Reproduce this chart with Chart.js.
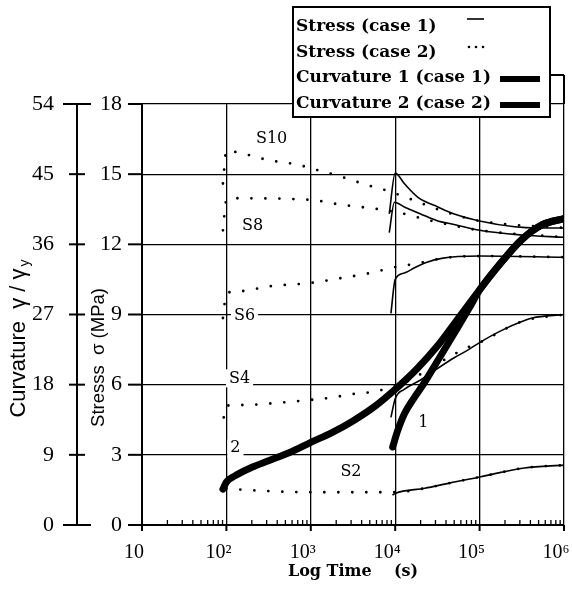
<!DOCTYPE html>
<html>
<head>
<meta charset="utf-8">
<script src="https://cdn.jsdelivr.net/npm/chart.js@4.4.0/dist/chart.umd.min.js"></script>
<style>
  body { margin: 0; background: #fff; }
  canvas { display: block; }
</style>
</head>
<body>
<canvas id="chart" width="572" height="594"></canvas>
<script>
// [time (s), stress (MPa)]
const s10Case1 = [[8500, 13.3], [1e4, 15.05], [1.28e4, 14.6], [1.88e4, 14.0], [3.2e4, 13.6], [5e4, 13.3], [1e5, 13.0], [2.6e5, 12.75], [5e5, 12.7], [1e6, 12.7]];
const s8Case1 = [[8500, 12.5], [9800, 13.8], [1.28e4, 13.6], [2e4, 13.3], [3.2e4, 13.0], [5e4, 12.85], [1e5, 12.6], [3.16e5, 12.4], [1e6, 12.3]];
const s6Case1 = [[8900, 9.05], [1e4, 10.5], [1.28e4, 10.77], [1.7e4, 11.0], [2.24e4, 11.2], [3.55e4, 11.4], [1e5, 11.5], [1e6, 11.45]];
const s4Case1 = [[8900, 4.6], [1e4, 5.4], [1.28e4, 5.8], [2e4, 6.2], [3.2e4, 6.7], [5e4, 7.15], [7.4e4, 7.5], [1e5, 7.8], [1.78e5, 8.3], [3.16e5, 8.7], [4.2e5, 8.85], [1e6, 9.0]];
const s2Case1 = [[9300, 1.28], [1e4, 1.35], [2.24e4, 1.57], [4.5e4, 1.8], [1e5, 2.05], [1.78e5, 2.25], [3.4e5, 2.44], [1e6, 2.56]];

const s10Case2 = [[91, 14.6], [100, 16.0], [148, 15.9], [316, 15.6], [708, 15.4], [1000, 15.25], [2240, 14.9], [5000, 14.5], [7940, 14.3], [1.48e4, 13.95], [2.24e4, 13.7], [3.16e4, 13.5], [1e5, 13.0], [1e6, 12.7]];
const s8Case2 = [[91, 12.6], [100, 13.9], [117, 13.97], [1000, 13.9], [2240, 13.7], [5000, 13.55], [7940, 13.45], [1.48e4, 13.25], [2.24e4, 13.07], [3.16e4, 12.95], [1e5, 12.6], [1e6, 12.3]];
const s6Case2 = [[91, 8.85], [100, 9.9], [148, 10.0], [316, 10.2], [1000, 10.35], [2240, 10.55], [5000, 10.77], [1e4, 11.03], [1.6e4, 11.15], [2.5e4, 11.28], [3.55e4, 11.4], [1e5, 11.5], [1e6, 11.45]];
const s4Case2 = [[93, 4.6], [100, 5.1], [155, 5.13], [500, 5.25], [1000, 5.35], [1780, 5.45], [3160, 5.6], [5620, 5.7], [1e4, 5.95], [1.6e4, 6.25], [3.16e4, 6.9], [4.5e4, 7.2], [6.3e4, 7.5], [1e5, 7.8], [3.16e5, 8.7], [1e6, 9.0]];
const s2Case2 = [[100, 1.55], [316, 1.45], [1000, 1.4], [3160, 1.4], [1e4, 1.4], [2.24e4, 1.57], [4.5e4, 1.8], [1e5, 2.05], [3.4e5, 2.44], [1e6, 2.56]];

// [time (s), curvature gamma/gamma_y]
const curvature1 = [[9330, 10.0], [1.07e4, 12.1], [1.29e4, 14.3], [1.66e4, 16.25], [2.14e4, 18.0], [3.16e4, 21.0], [5.01e4, 24.6], [7.94e4, 28.25], [1e5, 30.15], [1.78e5, 33.6], [3.16e5, 36.6], [5.62e5, 38.55], [1e6, 39.3]];
const curvature2 = [[91, 4.6], [100, 5.5], [126, 6.3], [200, 7.4], [316, 8.25], [562, 9.3], [1000, 10.6], [1780, 11.85], [3160, 13.35], [5620, 15.15], [1e4, 17.4], [1.78e4, 19.95], [3.16e4, 22.95], [5.62e4, 26.55], [1e5, 30.15], [1.78e5, 33.6], [3.16e5, 36.6], [5.62e5, 38.55], [1e6, 39.3]];

const stressTicks = [0, 3, 6, 9, 12, 15, 18];
const curvatureTicks = [0, 9, 18, 27, 36, 45, 54];
const timeTicks = [10, 1e2, 1e3, 1e4, 1e5, 1e6];
const timeTickLabels = ['10', '10²', '10³', '10⁴', '10⁵', '10⁶'];
const legendLabels = ['Stress (case 1)', 'Stress (case 2)', 'Curvature 1 (case 1)', 'Curvature 2 (case 2)'];

// curve labels, anchored at [time, stress]
const curveLabels = [
  ['S10', 343, 16.5], ['S8', 204, 12.8], ['S6', 164, 8.95], ['S4', 143, 6.27],
  ['2', 128, 3.28], ['S2', 2990, 2.26], ['1', 21500, 4.35]
];

const SERIF = '"Liberation Serif", "Times New Roman", serif';
const pts = arr => arr.map(p => ({ x: p[0], y: p[1] }));

function solid(label, arr) {
  return { label, data: pts(arr), borderColor: '#000', borderWidth: 1.6, pointRadius: 0,
    cubicInterpolationMode: 'monotone', yAxisID: 'y' };
}
function dotted(label, arr) {
  return { label, data: pts(arr), borderColor: '#000', borderWidth: 2.8, borderDash: [0, 14],
    borderCapStyle: 'round', pointRadius: 0, cubicInterpolationMode: 'monotone', yAxisID: 'y' };
}
function thick(label, arr) {
  return { label, data: pts(arr), borderColor: '#000', borderWidth: 7, borderCapStyle: 'round',
    pointRadius: 0, cubicInterpolationMode: 'monotone', yAxisID: 'y2' };
}

const line = (ctx, x1, y1, x2, y2) => { ctx.beginPath(); ctx.moveTo(x1, y1); ctx.lineTo(x2, y2); ctx.stroke(); };

const decor = {
  id: 'decor',
  beforeDatasetsDraw(chart) {
    const { ctx, scales: { x, y } } = chart;
    ctx.save();
    ctx.font = '16px "DejaVu Serif"';
    ctx.textAlign = 'center';
    ctx.textBaseline = 'middle';
    curveLabels.forEach(([text, t, s]) => {
      const px = x.getPixelForValue(t), py = y.getPixelForValue(s);
      const w = ctx.measureText(text).width;
      ctx.fillStyle = '#fff';
      ctx.fillRect(px - w / 2 - 3, py - 9, w + 6, 18);
      ctx.fillStyle = '#000';
      ctx.fillText(text, px, py);
    });
    ctx.restore();
  },
  afterDraw(chart) {
    const { ctx, chartArea: area, scales: { x, y, y2 } } = chart;
    ctx.save();
    ctx.strokeStyle = '#000';
    ctx.fillStyle = '#000';
    ctx.lineWidth = 2;

    // axis ticks
    stressTicks.forEach(v => { const py = y.getPixelForValue(v); line(ctx, y.right - 14, py, y.right, py); });
    curvatureTicks.forEach((v, i) => {
      const py = y2.getPixelForValue(v);
      const ext = (i === 0 || i === curvatureTicks.length - 1) ? 14 : 8;
      line(ctx, y2.right - ext, py, y2.right + ext, py);
    });
    timeTicks.forEach(v => { const px = x.getPixelForValue(v); line(ctx, px, area.bottom, px, area.bottom + 6); });
    ctx.lineWidth = 1.3;
    timeTicks.slice(0, -1).forEach(d => {
      for (let k = 2; k < 10; k++) {
        const px = x.getPixelForValue(k * d);
        line(ctx, px, area.bottom - 5, px, area.bottom);
      }
    });

    // y axis titles
    const midY = (area.top + area.bottom) / 2;
    ctx.save();
    ctx.translate(y2.left + 25, midY + 24);
    ctx.rotate(-Math.PI / 2);
    ctx.font = '22px "Liberation Sans"';
    const main = 'Curvature  γ / γ';
    const wMain = ctx.measureText(main).width;
    ctx.font = '14px "Liberation Sans"';
    const wSub = ctx.measureText('y').width;
    const x0 = -(wMain + wSub + 2) / 2;
    ctx.font = '22px "Liberation Sans"';
    ctx.textAlign = 'left';
    ctx.fillText(main, x0, 0);
    ctx.font = '14px "Liberation Sans"';
    ctx.fillText('y', x0 + wMain + 2, 4);
    ctx.restore();

    ctx.save();
    ctx.translate(y.left + 27, midY + 43);
    ctx.rotate(-Math.PI / 2);
    ctx.font = '18.5px "Liberation Sans"';
    ctx.textAlign = 'center';
    ctx.fillText('Stresss  σ (MPa)', 0, 0);
    ctx.restore();

    // frame piece above the plot on the right
    ctx.lineWidth = 2;
    const bx = 293, by = 7, bw = 257, bh = 110;
    line(ctx, bx + bw, 75, area.right, 75);
    line(ctx, area.right, 75, area.right, area.top);

    // legend
    ctx.fillStyle = '#fff';
    ctx.fillRect(bx, by, bw, bh);
    ctx.strokeRect(bx, by, bw, bh);
    ctx.fillStyle = '#000';
    ctx.font = 'bold 17px "DejaVu Serif"';
    ctx.textAlign = 'left';
    ctx.textBaseline = 'alphabetic';
    const rows = [24, 50, 75, 101];
    legendLabels.forEach((txt, i) => ctx.fillText(txt, bx + 3, by + rows[i]));
    ctx.lineWidth = 1.6;
    line(ctx, 467, by + rows[0] - 12, 484, by + rows[0] - 12);
    [469, 476, 483].forEach(px => { ctx.beginPath(); ctx.arc(px, by + rows[1] - 10, 1.3, 0, Math.PI * 2); ctx.fill(); });
    ctx.fillRect(500, by + rows[2] - 6, 40, 6);
    ctx.fillRect(500, by + rows[3] - 6, 40, 6);
    ctx.restore();
  }
};

new Chart(document.getElementById('chart').getContext('2d'), {
  type: 'line',
  data: {
    datasets: [
      thick(legendLabels[2], curvature1),
      thick(legendLabels[3], curvature2),
      solid('S10 ' + legendLabels[0], s10Case1),
      solid('S8 ' + legendLabels[0], s8Case1),
      solid('S6 ' + legendLabels[0], s6Case1),
      solid('S4 ' + legendLabels[0], s4Case1),
      solid('S2 ' + legendLabels[0], s2Case1),
      dotted('S10 ' + legendLabels[1], s10Case2),
      dotted('S8 ' + legendLabels[1], s8Case2),
      dotted('S6 ' + legendLabels[1], s6Case2),
      dotted('S4 ' + legendLabels[1], s4Case2),
      dotted('S2 ' + legendLabels[1], s2Case2)
    ]
  },
  options: {
    responsive: false,
    animation: false,
    devicePixelRatio: 1,
    events: [],
    layout: { padding: { left: 0, right: 8, top: 104, bottom: 0 } },
    plugins: { legend: { display: false }, tooltip: { enabled: false } },
    scales: {
      x: {
        type: 'logarithmic', min: 10, max: 1e6,
        afterBuildTicks: s => { s.ticks = timeTicks.map(v => ({ value: v })); },
        afterFit: s => { s.height = 69; s.paddingLeft = 0; s.paddingRight = 0; },
        grid: { color: '#000', lineWidth: 1.3, drawTicks: false },
        border: { color: '#000', width: 2 },
        ticks: { color: '#000', font: { family: SERIF, size: 20 }, padding: 16, labelOffset: -8,
          maxRotation: 0, autoSkip: false, callback: (v, i) => timeTickLabels[i] },
        title: { display: true, text: 'Log Time    (s)', color: '#000',
          font: { family: '"DejaVu Serif"', size: 16, weight: 'bold' }, padding: { top: 0, bottom: 13 } }
      },
      y: {
        position: 'left', weight: 0, min: 0, max: 18,
        afterBuildTicks: s => { s.ticks = stressTicks.map(v => ({ value: v })); },
        afterFit: s => { s.width = 65; s.paddingTop = 0; s.paddingBottom = 0; },
        grid: { color: '#000', lineWidth: 1.3, drawTicks: false },
        border: { color: '#000', width: 2 },
        ticks: { color: '#000', font: { family: SERIF, size: 22 }, padding: 20 }
      },
      y2: {
        position: 'left', weight: 1, min: 0, max: 54,
        afterBuildTicks: s => { s.ticks = curvatureTicks.map(v => ({ value: v })); },
        afterFit: s => { s.width = 77; s.paddingTop = 0; s.paddingBottom = 0; },
        grid: { drawOnChartArea: false, drawTicks: false },
        border: { color: '#000', width: 2 },
        ticks: { color: '#000', font: { family: SERIF, size: 22 }, padding: 23 }
      }
    }
  },
  plugins: [decor]
});
</script>
</body>
</html>
